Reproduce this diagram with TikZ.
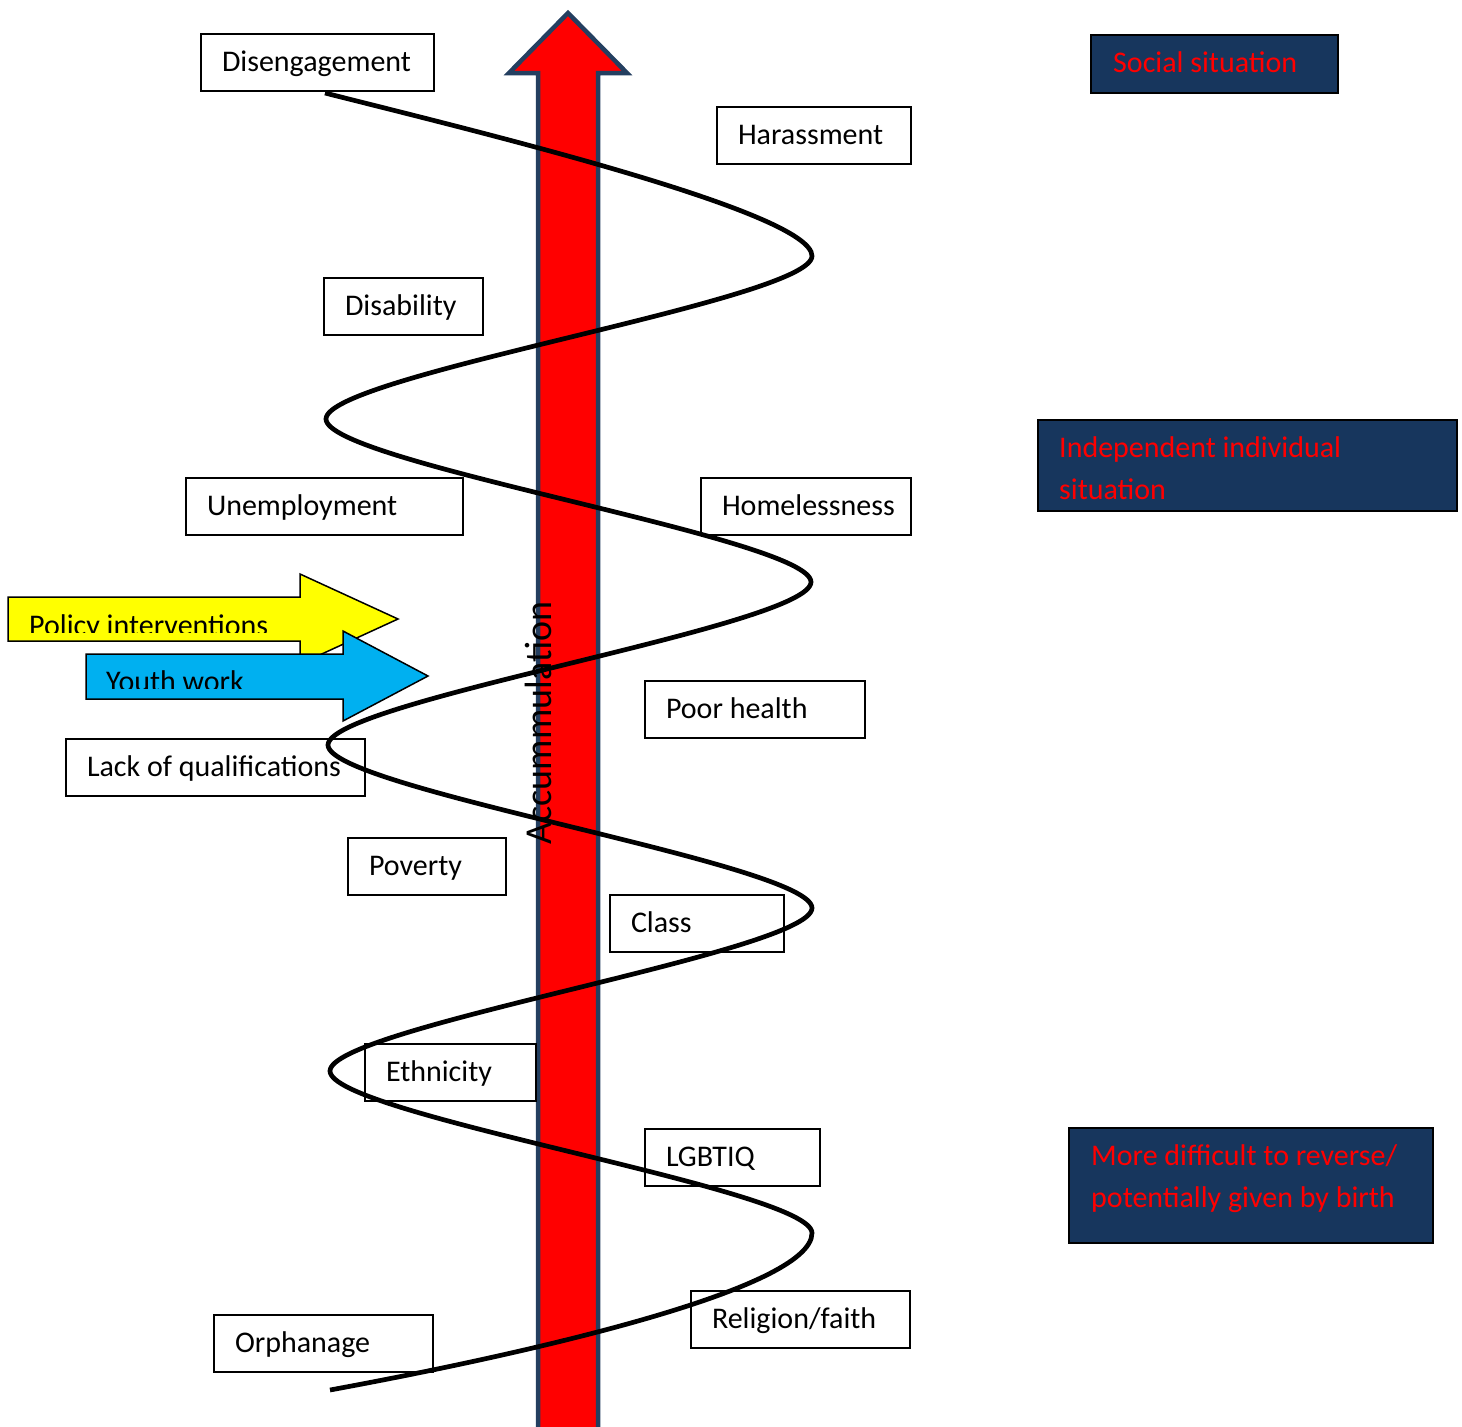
\documentclass[tikz,border=0pt]{standalone}
\usepackage{fontspec}
\setmainfont{Carlito}
\definecolor{arrowblue}{HTML}{243F60}
\definecolor{legendblue}{HTML}{17365D}
\definecolor{youthcyan}{HTML}{00B0F0}
\definecolor{policyyellow}{HTML}{FFFF00}
\begin{document}
\begin{tikzpicture}[x=1pt,y=-1pt,
  lbl/.style={draw=black, line width=1.6pt, fill=white, inner xsep=21pt, inner ysep=0pt,
    minimum height=57pt, align=flush left, text height=22pt, text depth=4pt,
    font=\fontsize{30}{36}\selectfont},
  legendbox/.style={draw=black, line width=2.5pt, fill=legendblue, inner sep=0pt},
  legendtext/.style={anchor=base west, inner sep=0pt, text=red, align=left,
    font=\fontsize{30}{42}\selectfont},
  helixline/.style={draw=black, line width=4.7pt, line cap=butt},
  bigarrow/.style={draw=arrowblue, line width=4.5pt, fill=red, line join=miter},
  sidearrow/.style={draw=black, line width=1.5pt, line join=miter},
  arrowtext/.style={anchor=base west, inner sep=0pt, font=\fontsize{30}{36}\selectfont}
]
\useasboundingbox (0,0) rectangle (1462,1427);

% central accumulation arrow
\draw[bigarrow] (538,1440) -- (538,73) -- (509,73) -- (568,13) -- (627,73) -- (598,73) -- (598,1440) -- cycle;
\node[anchor=base, rotate=90, inner sep=0pt, font=\fontsize{38}{44}\selectfont] (accum) at (551,723) {Accummulation};

% label boxes
\node[lbl, text width=191pt] (diseng) at (317.5,62.5) {\mbox{Disengagement}};
\node[lbl, text width=152pt] (harass) at (814,135.5) {\mbox{Harassment}};
\node[lbl, text width=117pt] (disab) at (403.5,306.5) {\mbox{Disability}};
\node[lbl, text width=235pt] (unemp) at (324.5,506.5) {\mbox{Unemployment}};
\node[lbl, text width=168pt] (homeless) at (806,506.5) {\mbox{Homelessness}};
\node[lbl, text width=178pt] (poorh) at (755,709.5) {\mbox{Poor health}};
\node[lbl, text width=257pt] (lackq) at (215.5,767.5) {\mbox{Lack of qualifications}};
\node[lbl, text width=116pt] (poverty) at (427,866.5) {\mbox{Poverty}};
\node[lbl, text width=132pt] (class) at (697,923.5) {\mbox{Class}};
\node[lbl, text width=129pt] (ethnic) at (450.5,1072.5) {\mbox{Ethnicity}};
\node[lbl, text width=133pt] (lgbtiq) at (732.5,1157.5) {\mbox{LGBTIQ}};
\node[lbl, text width=177pt] (relig) at (800.5,1319.5) {\mbox{Religion/faith}};
\node[lbl, text width=177pt] (orphan) at (323.5,1343.5) {\mbox{Orphanage}};

% intervention arrows
\draw[sidearrow, fill=policyyellow] (8,597) -- (300,597) -- (300,574) -- (398,619) -- (300,664) -- (300,641) -- (8,641) -- cycle;
\begin{scope}
  \clip (8,597) rectangle (300,632);
  \node[arrowtext] (policy) at (29,635) {Policy interventions};
\end{scope}
\draw[sidearrow, fill=youthcyan] (86,654) -- (343,654) -- (343,631) -- (428,676) -- (343,721) -- (343,699) -- (86,699) -- cycle;
\begin{scope}
  \clip (86,654) rectangle (343,688);
  \node[arrowtext] (youth) at (106,691) {Youth work};
\end{scope}

% spiral
\coordinate (s0) at (325,93);
\coordinate (r1) at (812,256);
\coordinate (l1) at (326,419);
\coordinate (r2) at (811,582);
\coordinate (l2) at (328,745);
\coordinate (r3) at (812,908);
\coordinate (l3) at (330,1071);
\coordinate (r4) at (812,1233);
\coordinate (e0) at (330,1390);
\draw[helixline] (s0) .. controls (475,131) and (812,212) .. (r1)
  .. controls (812,300) and (326,375) .. (l1)
  .. controls (326,463) and (811,538) .. (r2)
  .. controls (811,626) and (328,701) .. (l2)
  .. controls (328,789) and (812,864) .. (r3)
  .. controls (812,952) and (330,1027) .. (l3)
  .. controls (330,1115) and (812,1189) .. (r4)
  .. controls (812,1290) and (520,1355) .. (e0);

% legend boxes
\node[legendbox, minimum width=247pt, minimum height=58pt] (socialbox) at (1214.5,64) {};
\node[legendtext] (socialtext) at (1113,72) {Social situation};
\node[legendbox, minimum width=419pt, minimum height=91pt] (indepbox) at (1247.5,465.5) {};
\node[legendtext] (indeptext) at (1059,499) {Independent individual\\situation};
\node[legendbox, minimum width=364pt, minimum height=115pt] (diffbox) at (1251,1185.5) {};
\node[legendtext] (difftext) at (1091,1207) {More difficult to reverse/\\potentially given by birth};
\end{tikzpicture}
\end{document}
